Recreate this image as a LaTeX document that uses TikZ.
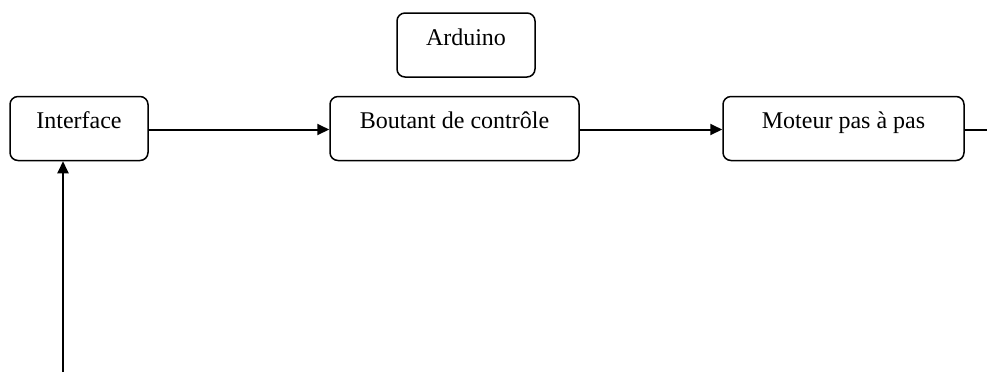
\documentclass[tikz,border=0pt]{standalone}
\usepackage{fontspec}
\setmainfont{Liberation Serif}
\usetikzlibrary{arrows.meta}

\begin{document}
\begin{tikzpicture}[x=0.5pt, y=-0.5pt,  block/.style={draw, rounded corners=4pt, line width=0.75pt, inner sep=0pt, minimum height=32pt, text height=7pt, text depth=7pt, font=\fontsize{12}{14}\selectfont},  link/.style={line width=1pt, -{Triangle[length=6pt, width=5.5pt]}},  plain/.style={line width=1pt}]
\useasboundingbox (0,0) rectangle (987,372);
%%%%%%%%%%%%%%%%%%%%%%%%%%%%%%%%%%%%%%%%%%%%%%%%%%
% blocks
%%%%%%%%%%%%%%%%%%%%%%%%%%%%%%%%%%%%%%%%%%%%%%%%%%
  \node[block, minimum width=69pt] (ard) at (466,45) {Arduino};
  \node[block, minimum width=69pt] (iface) at (79,128.5) {Interface};
  \node[block, minimum width=124.5pt] (btn) at (454.5,128.5) {Boutant de contrôle};
  \node[block, minimum width=120.5pt] (mot) at (843.5,128.5) {Moteur pas à pas};

  \coordinate (out) at (987,129.5);
  \coordinate (in) at (63,372);
%%%%%%%%%%%%%%%%%%%%%%%%%%%%%%%%%%%%%%%%%%%%%%%%%%
% links
%%%%%%%%%%%%%%%%%%%%%%%%%%%%%%%%%%%%%%%%%%%%%%%%%%
  \draw[link] ([yshift=-0.5pt]iface.east)--([yshift=-0.5pt]btn.west);
  \draw[link] ([yshift=-0.5pt]btn.east)--([yshift=-0.5pt]mot.west);
  \draw[plain] ([yshift=-0.5pt]mot.east)--(out);
  \draw[link] (in)--(in |- iface.south);
\end{tikzpicture}
\end{document}
